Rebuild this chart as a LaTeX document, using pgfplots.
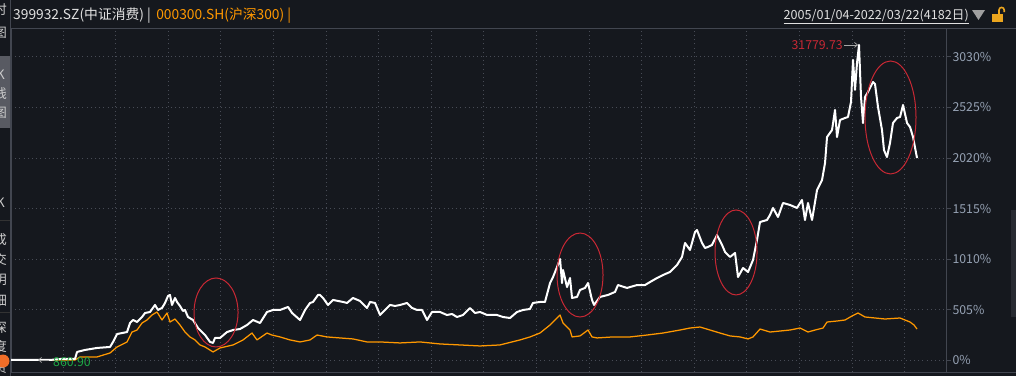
\documentclass[border=0pt]{standalone}
\usepackage{pgfplots}
\pgfplotsset{compat=1.18}
\usepackage{fontspec}
\setmainfont{Noto Sans CJK SC}
\usetikzlibrary{arrows.meta}
\definecolor{bg}{RGB}{21,24,30}
\definecolor{gridc}{RGB}{72,76,86}
\definecolor{framec}{RGB}{66,70,80}
\definecolor{tickc}{RGB}{150,162,180}
\definecolor{orangeline}{RGB}{255,152,0}
\definecolor{redc}{RGB}{200,40,52}
\definecolor{greenc}{RGB}{30,170,70}
\definecolor{txt}{RGB}{225,225,225}
\definecolor{side}{RGB}{205,205,205}
\definecolor{tile}{RGB}{88,90,98}
\definecolor{lockc}{RGB}{235,165,30}
\definecolor{blob}{RGB}{240,110,40}
\definecolor{tabc}{RGB}{40,43,50}
\begin{document}
\begin{tikzpicture}[x=1pt,y=1pt]
\path[use as bounding box] (0,0) rectangle (1016,376);
\clip (0,0) rectangle (1016,376);
\fill[bg] (0,0) rectangle (1016,376);
% sidebar
\fill[tile] (0,248) rectangle (10,320);
\draw[black!80, line width=0.8pt] (0,156) -- (10,156);
\draw[black!80, line width=0.8pt] (0,64) -- (10,64);
\begin{scope}[every node/.style={text=side, font=\fontsize{13}{15}\selectfont, inner sep=0, anchor=center}]
\node at (0.5,366) {时};
\node at (0.5,343) {图};
\node at (0.5,301) {K};
\node at (0.5,282) {线};
\node at (0.5,263) {图};
\node at (0.5,173) {K};
\node at (0.5,136) {成};
\node at (0.5,116) {交};
\node at (0.5,96) {明};
\node at (0.5,76) {细};
\node at (0.5,48) {深};
\node at (0.5,29) {度};
\node at (0.5,8) {资};
\end{scope}
\fill[blob] (3,15) circle (6.5);
% right edge tab
\fill[tabc] (1011,59) rectangle (1016,166);
\begin{axis}[
  at={(11pt,4pt)}, anchor=south west,
  width=935pt, height=344pt, scale only axis,
  xmin=2005.011, xmax=2022.787,
  ymin=-115, ymax=3318,
  xtick={2006,2007,...,2022}, xticklabels={},
  xtick style={draw=none},
  ytick={0,505,1010,1515,2020,2525,3030},
  yticklabels={0\%,505\%,1010\%,1515\%,2020\%,2525\%,3030\%},
  yticklabel pos=right, ytick pos=right,
  tick align=outside, major tick length=5pt,
  ytick style={draw=framec, line width=0.8pt},
  yticklabel style={font=\fontsize{12.3}{14}\selectfont, text=tickc, anchor=west, xshift=-2pt},
  grid=major,
  major grid style={draw=gridc, line width=0.8pt, dash pattern=on 1pt off 3.2pt},
  axis line style={draw=framec, line width=0.8pt},
  clip=true,
]
\addplot[orangeline, line width=1.25pt, line join=round, mark=none] coordinates {
(2005.01,5) (2006.228,5) (2006.323,35) (2006.646,35) (2006.894,75) (2007.027,135) (2007.217,185) (2007.312,284) (2007.407,304) (2007.502,374) (2007.597,404) (2007.692,454) (2007.787,484) (2007.882,404) (2007.977,474) (2008.034,384) (2008.129,414) (2008.224,354) (2008.319,284) (2008.414,235) (2008.510,205) (2008.605,155) (2008.700,135) (2008.852,85) (2008.985,125) (2009.232,155) (2009.422,205) (2009.593,274) (2009.688,205) (2009.878,274) (2009.973,254) (2010.125,235) (2010.316,205) (2010.506,185) (2010.696,205) (2010.829,254) (2011.019,235) (2011.266,225) (2011.513,215) (2011.779,185) (2012.027,185) (2012.407,175) (2012.787,185) (2013.167,165) (2013.548,155) (2013.928,145) (2014.308,155) (2014.688,205) (2014.878,235) (2015.068,274) (2015.259,354) (2015.392,424) (2015.449,454) (2015.506,374) (2015.639,304) (2015.677,235) (2015.829,245) (2015.981,304) (2016.057,235) (2016.152,225) (2016.456,235) (2016.779,235) (2017.103,254) (2017.407,274) (2017.730,304) (2017.920,324) (2018.110,334) (2018.300,304) (2018.490,274) (2018.681,245) (2018.871,235) (2019.023,215) (2019.118,235) (2019.251,314) (2019.441,284) (2019.631,294) (2019.821,304) (2020.011,324) (2020.163,284) (2020.297,304) (2020.449,324) (2020.525,384) (2020.715,394) (2020.867,404) (2021.000,444) (2021.114,474) (2021.247,434) (2021.437,424) (2021.627,414) (2021.913,424) (2022.008,404) (2022.103,384) (2022.179,354) (2022.236,314)
};
\addplot[white, line width=2pt, line join=round, mark=none] coordinates {
(2005.01,5) (2005.43,5) (2005.753,5) (2005.943,15) (2006.228,15) (2006.266,85) (2006.418,105) (2006.646,125) (2006.894,135) (2006.951,185) (2007.027,264) (2007.122,274) (2007.217,284) (2007.274,374) (2007.331,404) (2007.407,384) (2007.502,434) (2007.559,474) (2007.654,484) (2007.749,554) (2007.806,504) (2007.882,524) (2007.939,574) (2007.996,644) (2008.034,654) (2008.072,554) (2008.129,624) (2008.167,584) (2008.224,544) (2008.281,494) (2008.319,504) (2008.376,434) (2008.471,404) (2008.567,324) (2008.605,304) (2008.700,254) (2008.795,185) (2008.852,175) (2008.890,225) (2008.985,225) (2009.118,284) (2009.232,304) (2009.365,314) (2009.498,354) (2009.612,404) (2009.745,374) (2009.878,484) (2009.992,504) (2010.125,504) (2010.278,534) (2010.354,474) (2010.506,404) (2010.601,504) (2010.696,574) (2010.753,584) (2010.848,654) (2010.886,654) (2010.943,624) (2011.038,554) (2011.133,604) (2011.323,584) (2011.399,574) (2011.513,624) (2011.646,594) (2011.779,524) (2011.837,584) (2011.932,574) (2012.027,454) (2012.160,524) (2012.217,554) (2012.312,544) (2012.407,554) (2012.540,574) (2012.635,524) (2012.730,504) (2012.825,504) (2012.920,404) (2013.015,484) (2013.167,484) (2013.300,454) (2013.395,464) (2013.490,434) (2013.605,454) (2013.738,524) (2013.833,474) (2013.928,484) (2014.061,454) (2014.251,454) (2014.365,434) (2014.498,424) (2014.631,484) (2014.745,504) (2014.878,514) (2014.935,574) (2015.068,584) (2015.163,584) (2015.259,773) (2015.316,833) (2015.392,933) (2015.449,1013) (2015.487,773) (2015.506,903) (2015.582,733) (2015.639,823) (2015.677,624) (2015.772,634) (2015.829,704) (2015.924,724) (2015.981,773) (2016.057,604) (2016.095,554) (2016.209,634) (2016.361,654) (2016.494,684) (2016.551,753) (2016.722,724) (2016.913,753) (2017.065,753) (2017.160,783) (2017.293,823) (2017.407,853) (2017.540,883) (2017.673,953) (2017.768,1033) (2017.825,1173) (2017.920,1103) (2018.015,1282) (2018.053,1302) (2018.148,1173) (2018.205,1123) (2018.262,1133) (2018.338,1153) (2018.433,1252) (2018.529,1153) (2018.586,1083) (2018.681,1033) (2018.776,1073) (2018.833,833) (2018.928,923) (2019.023,883) (2019.118,1003) (2019.194,1203) (2019.251,1382) (2019.384,1402) (2019.441,1452) (2019.498,1522) (2019.593,1432) (2019.688,1572) (2019.821,1552) (2019.954,1522) (2020.049,1602) (2020.106,1402) (2020.163,1572) (2020.240,1402) (2020.335,1701) (2020.430,1801) (2020.487,1971) (2020.525,2230) (2020.620,2300) (2020.677,2500) (2020.715,2230) (2020.772,2400) (2020.867,2420) (2020.924,2430) (2020.981,2580) (2021.019,2999) (2021.057,2700) (2021.095,2969) (2021.133,3149) (2021.171,2630) (2021.209,2370) (2021.247,2630) (2021.304,2680) (2021.399,2779) (2021.437,2759) (2021.494,2530) (2021.570,2300) (2021.608,2100) (2021.665,2030) (2021.722,2170) (2021.779,2370) (2021.856,2420) (2021.913,2430) (2021.970,2550) (2022.046,2370) (2022.103,2330) (2022.160,2230) (2022.236,2020)
};
% highlight ellipses
\draw[redc, line width=1pt] (axis cs:2008.909,479) ellipse [x radius=22pt, y radius=34.5pt];
\draw[redc, line width=1pt] (axis cs:2015.829,853) ellipse [x radius=23pt, y radius=42pt];
\draw[redc, line width=1pt] (axis cs:2018.795,1078) ellipse [x radius=21pt, y radius=42.5pt];
\draw[redc, line width=1pt] (axis cs:2021.732,2425) ellipse [x radius=25.5pt, y radius=56.5pt];
% max / min annotations
\draw[gray!70, line width=0.7pt, -{Straight Barb[length=3pt,width=5pt]}] ([xshift=-15pt]axis cs:2021.133,3149) -- ([xshift=-1pt]axis cs:2021.133,3149);
\node[anchor=east, text=redc, font=\fontsize{12.3}{14}\selectfont, inner sep=0] at ([xshift=-16pt]axis cs:2021.133,3149) {31779.73};
\draw[gray!70, line width=0.7pt, -{Straight Barb[length=3pt,width=5pt]}] ([xshift=11pt]axis cs:2005.525,5) -- (axis cs:2005.525,5);
\node[anchor=west, text=greenc, font=\fontsize{12.3}{14}\selectfont, inner sep=0] at ([xshift=15pt,yshift=-2pt]axis cs:2005.525,5) {860.90};
\end{axis}
% frame extensions
\draw[framec, line width=0.8pt] (946,4) -- (1016,4);
\draw[framec, line width=0.8pt] (946,348) -- (1016,348);
\draw[framec, line width=0.8pt] (10.5,0) -- (10.5,376);
% header
\node[anchor=base west, text=txt, font=\fontsize{13.8}{16}\selectfont, inner sep=0] (h1) at (13,357) {399932.SZ(中证消费) |};
\node[anchor=base west, text=orangeline, font=\fontsize{13.8}{16}\selectfont, inner sep=0] at ([xshift=5pt]h1.base east) {000300.SH(沪深300) |};
\node[anchor=base east, text=txt, font=\fontsize{12.6}{14}\selectfont, inner sep=0] at (969,357) {\underline{2005/01/04-2022/03/22(4182日)}};
\fill[gray!75] (972,366) -- (985,366) -- (978.5,356) -- cycle;
\fill[lockc] (992,354) rectangle (1003,362);
\draw[lockc, line width=1.6pt] (999,362) -- (999,366) arc (180:0:2.6) -- (1004.2,364);
\end{tikzpicture}
\end{document}
